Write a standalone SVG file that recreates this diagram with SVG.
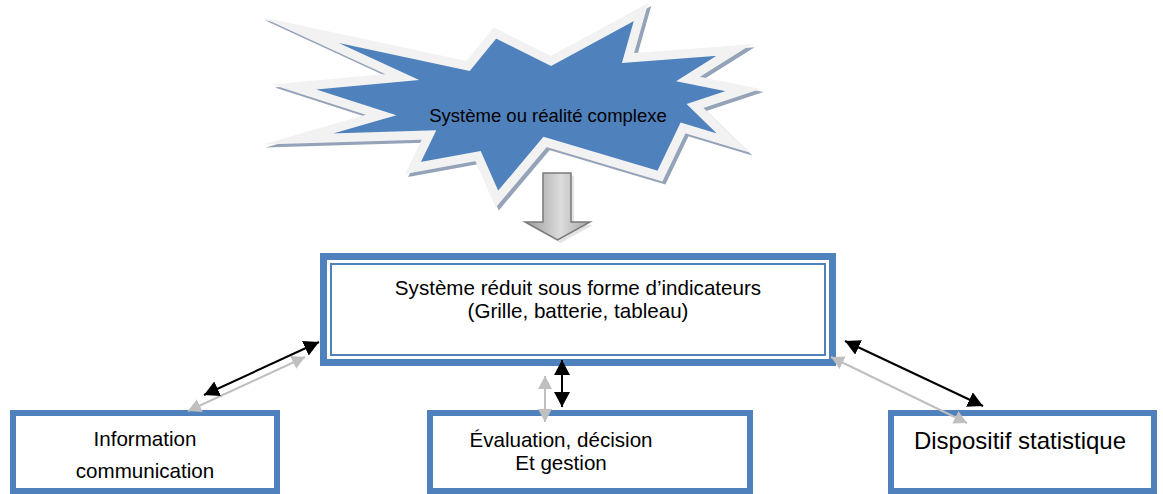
<svg xmlns="http://www.w3.org/2000/svg" width="1163" height="494" viewBox="0 0 1163 494">
<style>
text{font-family:"Liberation Sans",Arial,sans-serif;fill:#000;text-anchor:middle}
.box{fill:#fff;stroke:#4f81bd;stroke-width:6}
.blk{stroke:#000;stroke-width:2;fill:none}
.gry{stroke:#bfbfbf;stroke-width:2;fill:none}
</style>
<defs>
<marker id="hb" markerUnits="userSpaceOnUse" viewBox="0 0 16 16" markerWidth="16" markerHeight="16" refX="15" refY="8" orient="auto-start-reverse"><path d="M0,0 L15,8 L0,16 z" fill="#000"/></marker>
<marker id="hg" markerUnits="userSpaceOnUse" viewBox="0 0 14 14" markerWidth="14" markerHeight="14" refX="13" refY="7" orient="auto-start-reverse"><path d="M0,0 L13,7 L0,14 z" fill="#bfbfbf"/></marker>
<linearGradient id="ag" x1="0" y1="0" x2="1" y2="0">
<stop offset="0" stop-color="#9a9a9a"/><stop offset="0.55" stop-color="#dcdcdc"/><stop offset="1" stop-color="#a5a5a5"/>
</linearGradient>
<path id="starp" d="M300,30 L468,66 L495,33 L551,61 L641,12 L628,58 L734,50 L688,79 L743,90 L695,106 L733,143 L683,128 L660,176 L545,142 L497,199 L478,156 L413,168 L429,135 L298,139 L381,115 L294,87 L402,77 Z"/>
</defs>
<g id="star">
<use href="#starp" transform="translate(3,3)" fill="#95a3b8" stroke="#95a3b8" stroke-width="9" stroke-linejoin="miter" stroke-miterlimit="30"/>
<use href="#starp" fill="#4f81bd" stroke="#f2f2f2" stroke-width="9" stroke-linejoin="miter" stroke-miterlimit="30"/>
<text x="548" y="122" font-size="18.5">Système ou réalité complexe</text>
</g>
<g id="down-arrow">
<path d="M546,176 L574,176 L574,225 L593,225 L560.5,243 L528,225 L546,225 Z" fill="#c8c8c8" opacity="0.5"/>
<path d="M543,173 L571,173 L571,222 L590,222 L557.5,240 L525,222 L543,222 Z" fill="url(#ag)" stroke="#7a7a7a" stroke-width="1.5"/>
</g>
<g id="main">
<rect x="323.5" y="256.5" width="509" height="106" fill="#fff" stroke="#4f81bd" stroke-width="7"/>
<rect x="331" y="264" width="494" height="91" fill="none" stroke="#4f81bd" stroke-width="2"/>
<text x="578" y="295" font-size="20.6">Système réduit sous forme d’indicateurs</text>
<text x="578" y="318" font-size="20.6">(Grille, batterie, tableau)</text>
</g>
<g id="info">
<rect class="box" x="13" y="413" width="264" height="78"/>
<text x="145" y="446" font-size="20.6">Information</text>
<text x="145" y="478" font-size="20.6">communication</text>
</g>
<g id="eval">
<rect class="box" x="430" y="413" width="320" height="78"/>
<text x="561" y="447" font-size="20.6">Évaluation, décision</text>
<text x="561" y="470" font-size="20.6">Et gestion</text>
</g>
<g id="dispositif">
<rect class="box" x="891" y="413" width="263" height="78"/>
<text x="1020" y="449" font-size="24">Dispositif statistique</text>
</g>
<g id="connectors">
<line class="gry" x1="188" y1="411" x2="305" y2="357" marker-start="url(#hg)" marker-end="url(#hg)"/>
<line class="blk" x1="204" y1="395" x2="319" y2="342" marker-start="url(#hb)" marker-end="url(#hb)"/>
<line class="gry" x1="545" y1="376" x2="545" y2="422" marker-start="url(#hg)" marker-end="url(#hg)"/>
<line class="blk" x1="562" y1="360" x2="562" y2="407" marker-start="url(#hb)" marker-end="url(#hb)"/>
<line class="gry" x1="831" y1="357" x2="967" y2="423" marker-start="url(#hg)" marker-end="url(#hg)"/>
<line class="blk" x1="845" y1="341" x2="983" y2="406" marker-start="url(#hb)" marker-end="url(#hb)"/>
</g>
</svg>
